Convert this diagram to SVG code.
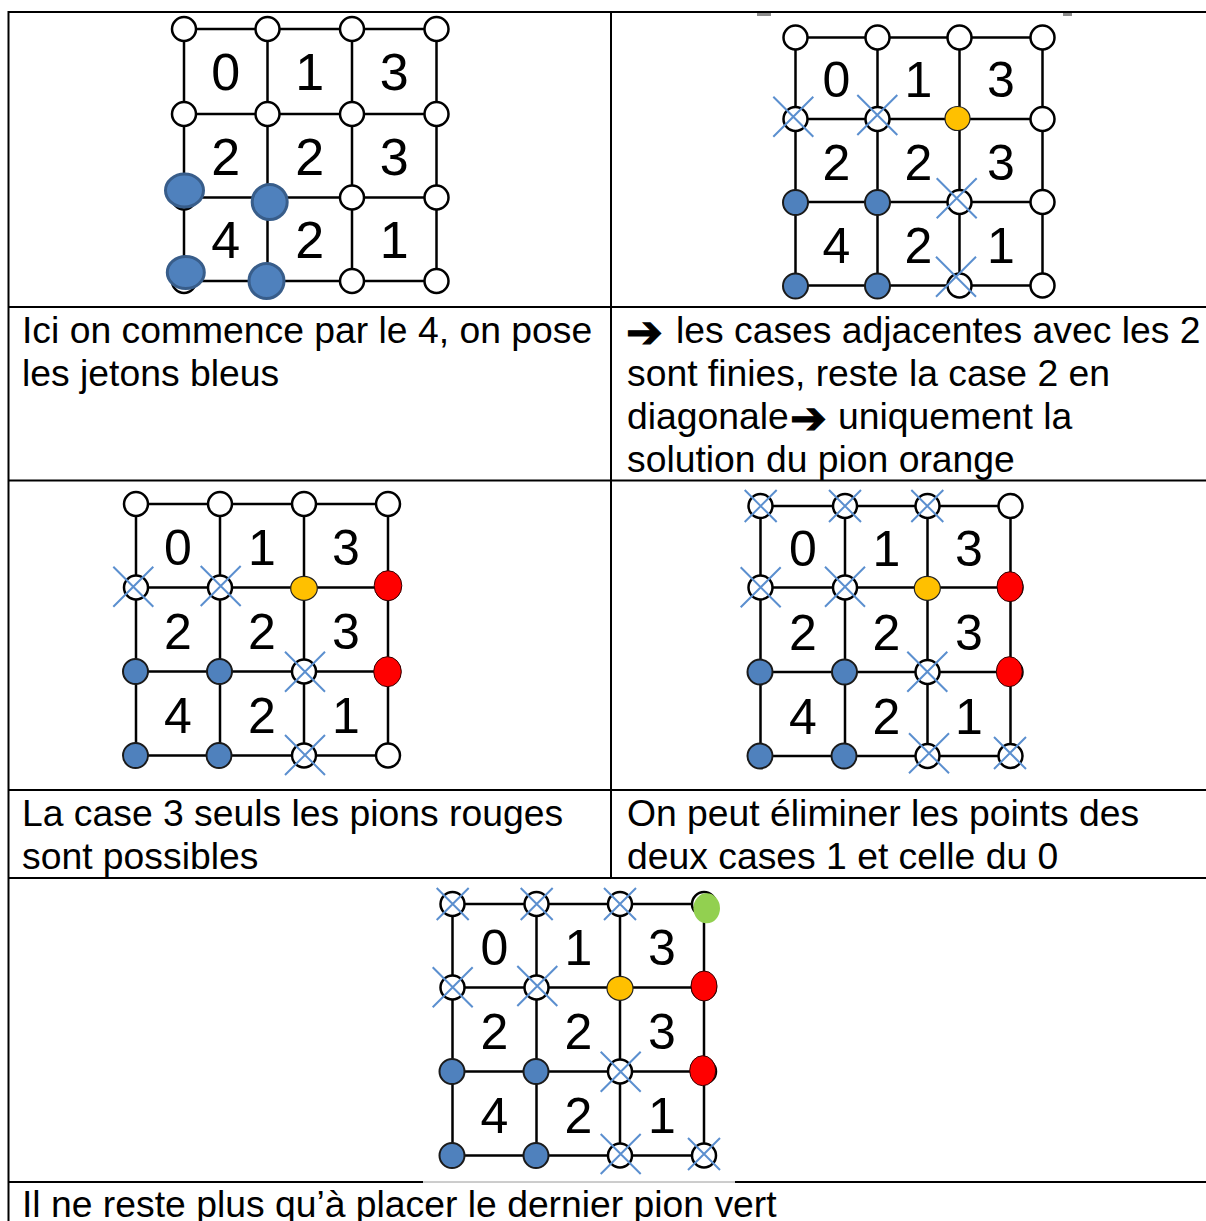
<svg xmlns="http://www.w3.org/2000/svg" xmlns:xlink="http://www.w3.org/1999/xlink" width="1206" height="1221" viewBox="0 0 1206 1221">
<style>
.tb{stroke:#000;stroke-width:2;fill:none}
.gl{stroke:#000;stroke-width:2.5;fill:none}
.nd{fill:#fff;stroke:#000;stroke-width:2.5}
.bl{fill:#4F81BD;stroke:#1a1a1a;stroke-width:2}
.bb{fill:#4F81BD;stroke:#385D8A;stroke-width:3}
.or{fill:#FFC000;stroke:#222;stroke-width:1.2}
.rd{fill:#FF0000;stroke:#300;stroke-width:1}
.gr{fill:#92D050;stroke:none}
.x{stroke:#5B8FCF;stroke-width:2;fill:none}
.dg{font-family:"Liberation Sans",Arial,sans-serif;font-size:50px;text-anchor:middle;fill:#000}
.dg1{font-size:52px}
.tx{font-family:"Liberation Sans",Arial,sans-serif;font-size:37.3px;fill:#000}
.ar{font-family:"DejaVu Sans",sans-serif;font-size:44px;stroke:#000;stroke-width:1.2}
</style>
<defs>
<circle id="n" r="12"/>
<circle id="b" r="12.5"/>
<path id="xl" d="M-20-20L20 20M-20 20L20-20"/>
<path id="xs" d="M-16-16L16 16M-16 16L16-16"/>
</defs>

<g id="table">
<path class="tb" d="M8 12H1206M8 307H1206M8 480.5H1206M8 790H1206M8 878H1206M8 1182H423M735 1182H1206"/>
<path d="M423 1182H735" stroke="#9a9a9a" stroke-width="1"/>
<path class="tb" d="M8.5 11V1221M611 11V878"/>
<rect x="757" y="13" width="14" height="3" fill="#8c8c8c"/>
<rect x="1063" y="13" width="9" height="3" fill="#8c8c8c"/>
</g>

<g id="connectors">
<path class="gl" d="M184 29H436.5M184 114H436.5M184 197.5H436.5M184 281H436.5M184 29V281M267.5 29V281M352 29V281M436.5 29V281"/>
<path class="gl" d="M795.5 37.5H1042.5M795.5 119H1042.5M795.5 202H1042.5M795.5 285.5H1042.5M795.5 37.5V285.5M877.5 37.5V285.5M959.5 37.5V285.5M1042.5 37.5V285.5"/>
<path class="gl" d="M136 504H388M136 587.5H388M136 671.5H388M136 755.5H388M136 504V755.5M220 504V755.5M304 504V755.5M388 504V755.5"/>
<path class="gl" d="M760.5 506H1010.5M760.5 587.5H1010.5M760.5 672H1010.5M760.5 756H1010.5M760.5 506V756M845 506V756M927.5 506V756M1010.5 506V756"/>
<path class="gl" d="M452.5 904H704M452.5 987.5H704M452.5 1071.5H704M452.5 1155.5H704M452.5 904V1155.5M536.5 904V1155.5M620 904V1155.5M704 904V1155.5"/>
</g>

<g id="grid1">
<g class="nd">
<use href="#n" x="184" y="29"/><use href="#n" x="267.5" y="29"/><use href="#n" x="352" y="29"/><use href="#n" x="436.5" y="29"/>
<use href="#n" x="184" y="114"/><use href="#n" x="267.5" y="114"/><use href="#n" x="352" y="114"/><use href="#n" x="436.5" y="114"/>
<use href="#n" x="184" y="197.5"/><use href="#n" x="267.5" y="197.5"/><use href="#n" x="352" y="197.5"/><use href="#n" x="436.5" y="197.5"/>
<use href="#n" x="184" y="281"/><use href="#n" x="267.5" y="281"/><use href="#n" x="352" y="281"/><use href="#n" x="436.5" y="281"/>
</g>
<ellipse class="bb" cx="184.5" cy="190.5" rx="19" ry="16.5"/>
<circle class="bb" cx="269.7" cy="202" r="17.5"/>
<ellipse class="bb" cx="185.8" cy="272.5" rx="18.5" ry="16"/>
<circle class="bb" cx="266.5" cy="281" r="17.5"/>
<g class="dg dg1">
<text x="225.8" y="90">0</text><text x="309.8" y="90">1</text><text x="394.3" y="90">3</text>
<text x="225.8" y="174.5">2</text><text x="309.8" y="174.5">2</text><text x="394.3" y="174.5">3</text>
<text x="225.8" y="258">4</text><text x="309.8" y="258">2</text><text x="394.3" y="258">1</text>
</g>
</g>

<g id="grid2">
<g class="nd">
<use href="#n" x="795.5" y="37.5"/><use href="#n" x="877.5" y="37.5"/><use href="#n" x="959.5" y="37.5"/><use href="#n" x="1042.5" y="37.5"/>
<use href="#n" x="795.5" y="119"/><use href="#n" x="877.5" y="119"/><use href="#n" x="1042.5" y="119"/>
<use href="#n" x="959.5" y="202"/><use href="#n" x="1042.5" y="202"/>
<use href="#n" x="959.5" y="285.5"/><use href="#n" x="1042.5" y="285.5"/>
</g>
<g class="bl">
<use href="#b" x="795.5" y="202.5"/><use href="#b" x="877.5" y="202.5"/><use href="#b" x="795.5" y="286"/><use href="#b" x="877.5" y="286"/>
</g>
<ellipse class="or" cx="957.5" cy="118.5" rx="12.5" ry="12"/>
<g class="x">
<use href="#xl" x="793.3" y="116.7"/><use href="#xl" x="877.3" y="115"/><use href="#xl" x="956.7" y="198.3"/><use href="#xl" x="956" y="276.7"/>
</g>
<g class="dg">
<text x="836.5" y="97">0</text><text x="918.5" y="97">1</text><text x="1001" y="97">3</text>
<text x="836.5" y="179.5">2</text><text x="918.5" y="179.5">2</text><text x="1001" y="179.5">3</text>
<text x="836.5" y="263">4</text><text x="918.5" y="263">2</text><text x="1001" y="263">1</text>
</g>
</g>

<g id="grid3">
<g class="nd">
<use href="#n" x="136" y="504"/><use href="#n" x="220" y="504"/><use href="#n" x="304" y="504"/><use href="#n" x="388" y="504"/>
<use href="#n" x="136" y="587.5"/><use href="#n" x="220" y="587.5"/><use href="#n" x="388" y="587.5"/>
<use href="#n" x="304" y="671.5"/><use href="#n" x="388" y="671.5"/>
<use href="#n" x="304" y="755.5"/><use href="#n" x="388" y="755.5"/>
</g>
<g class="bl">
<use href="#b" x="135.5" y="671.5"/><use href="#b" x="219.5" y="671.5"/><use href="#b" x="135.5" y="755.5"/><use href="#b" x="219" y="755.5"/>
</g>
<ellipse class="or" cx="304" cy="588.3" rx="13.3" ry="12"/>
<ellipse class="rd" cx="388" cy="585.7" rx="13.8" ry="15"/>
<ellipse class="rd" cx="387.5" cy="671.7" rx="13.8" ry="15"/>
<g class="x">
<use href="#xl" x="133.3" y="586.7"/><use href="#xl" x="220.7" y="586"/><use href="#xl" x="305" y="671.7"/><use href="#xl" x="305" y="755"/>
</g>
<g class="dg">
<text x="178" y="565">0</text><text x="262" y="565">1</text><text x="346" y="565">3</text>
<text x="178" y="649">2</text><text x="262" y="649">2</text><text x="346" y="649">3</text>
<text x="178" y="733">4</text><text x="262" y="733">2</text><text x="346" y="733">1</text>
</g>
</g>

<g id="grid4">
<g class="nd">
<use href="#n" x="760.5" y="506"/><use href="#n" x="845" y="506"/><use href="#n" x="927.5" y="506"/><use href="#n" x="1010.5" y="506"/>
<use href="#n" x="760.5" y="587.5"/><use href="#n" x="845" y="587.5"/><use href="#n" x="1010.5" y="587.5"/>
<use href="#n" x="927.5" y="672"/><use href="#n" x="1010.5" y="672"/>
<use href="#n" x="927.5" y="756"/><use href="#n" x="1010.5" y="756"/>
</g>
<g class="bl">
<use href="#b" x="760" y="672"/><use href="#b" x="844.5" y="672"/><use href="#b" x="760" y="756"/><use href="#b" x="844" y="756"/>
</g>
<ellipse class="or" cx="927.3" cy="588.3" rx="13" ry="12"/>
<ellipse class="rd" cx="1010" cy="586.7" rx="13" ry="15"/>
<ellipse class="rd" cx="1009.3" cy="671.7" rx="13" ry="15"/>
<g class="x">
<use href="#xs" x="760.7" y="506"/><use href="#xs" x="845" y="506"/><use href="#xs" x="927.3" y="506"/><use href="#xs" x="1010" y="753"/>
<use href="#xl" x="760.7" y="587.3"/><use href="#xl" x="845" y="586.7"/><use href="#xl" x="927.3" y="671.7"/><use href="#xl" x="929" y="753.3"/>
</g>
<g class="dg">
<text x="802.8" y="566">0</text><text x="886.3" y="566">1</text><text x="969" y="566">3</text>
<text x="802.8" y="649.5">2</text><text x="886.3" y="649.5">2</text><text x="969" y="649.5">3</text>
<text x="802.8" y="733.5">4</text><text x="886.3" y="733.5">2</text><text x="969" y="733.5">1</text>
</g>
</g>

<g id="grid5">
<g class="nd">
<use href="#n" x="452.5" y="904"/><use href="#n" x="536.5" y="904"/><use href="#n" x="620" y="904"/><use href="#n" x="704" y="904"/>
<use href="#n" x="452.5" y="987.5"/><use href="#n" x="536.5" y="987.5"/><use href="#n" x="704" y="987.5"/>
<use href="#n" x="620" y="1071.5"/><use href="#n" x="704" y="1071.5"/>
<use href="#n" x="620" y="1155.5"/><use href="#n" x="704" y="1155.5"/>
</g>
<g class="bl">
<use href="#b" x="452" y="1071.5"/><use href="#b" x="536" y="1071.5"/><use href="#b" x="452" y="1155.5"/><use href="#b" x="536" y="1155.5"/>
</g>
<ellipse class="or" cx="620" cy="988.3" rx="13" ry="12"/>
<ellipse class="rd" cx="704" cy="986" rx="13" ry="15"/>
<ellipse class="rd" cx="702.7" cy="1070.7" rx="13" ry="15"/>
<ellipse class="gr" cx="706.7" cy="908.3" rx="13.3" ry="15"/>
<g class="x">
<use href="#xs" x="452.7" y="904"/><use href="#xs" x="536.7" y="904"/><use href="#xs" x="620" y="904"/><use href="#xs" x="704" y="1154"/>
<use href="#xl" x="452.7" y="987.3"/><use href="#xl" x="537.3" y="986"/><use href="#xl" x="620.7" y="1071.7"/><use href="#xl" x="620.7" y="1154"/>
</g>
<g class="dg">
<text x="494.5" y="964.5">0</text><text x="578.3" y="964.5">1</text><text x="662" y="964.5">3</text>
<text x="494.5" y="1048.5">2</text><text x="578.3" y="1048.5">2</text><text x="662" y="1048.5">3</text>
<text x="494.5" y="1132.5">4</text><text x="578.3" y="1132.5">2</text><text x="662" y="1132.5">1</text>
</g>
</g>

<g id="text1">
<text class="tx" x="22" y="343">Ici on commence par le 4, on pose</text>
<text class="tx" x="22" y="386">les jetons bleus</text>
</g>
<g id="text2">
<text class="tx ar" x="626" y="347">➔</text>
<text class="tx" x="676" y="343">les cases adjacentes avec les 2</text>
<text class="tx" x="627" y="386">sont finies, reste la case 2 en</text>
<text class="tx" x="627" y="429">diagonale</text>
<text class="tx ar" x="790" y="433">➔</text>
<text class="tx" x="838" y="429">uniquement la</text>
<text class="tx" x="627" y="472">solution du pion orange</text>
</g>
<g id="text3">
<text class="tx" x="22" y="826">La case 3 seuls les pions rouges</text>
<text class="tx" x="22" y="869">sont possibles</text>
</g>
<g id="text4">
<text class="tx" x="627" y="826">On peut éliminer les points des</text>
<text class="tx" x="627" y="869">deux cases 1 et celle du 0</text>
</g>
<g id="text5">
<text class="tx" x="22" y="1217">Il ne reste plus qu’à placer le dernier pion vert</text>
</g>
</svg>
